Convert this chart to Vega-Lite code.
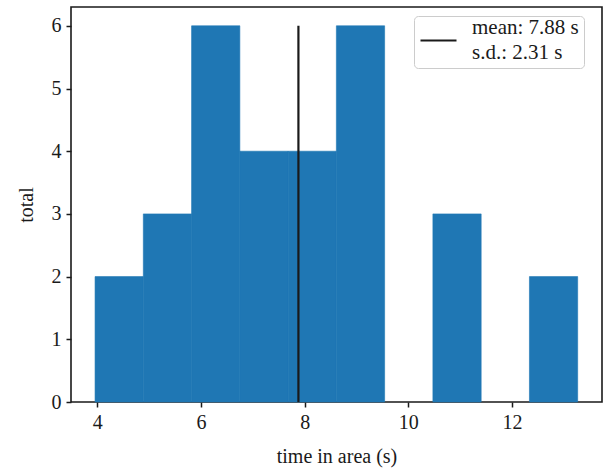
{
  "$schema": "https://vega.github.io/schema/vega-lite/v6.json",
  "width": 531,
  "height": 395,
  "autosize": {"type": "none"},
  "padding": {"left": 71, "top": 7, "right": 4, "bottom": 70},
  "background": "white",
  "config": {
    "view": {"stroke": "#1a1a1a", "strokeWidth": 1.6},
    "font": "Liberation Serif",
    "axis": {
      "grid": false,
      "domain": false,
      "tickColor": "#1a1a1a",
      "tickWidth": 1.5,
      "tickSize": 5,
      "labelFont": "Liberation Serif",
      "labelFontSize": 20,
      "labelColor": "#1a1a1a",
      "titleFont": "Liberation Serif",
      "titleFontSize": 20,
      "titleFontWeight": "normal",
      "titleColor": "#1a1a1a"
    }
  },
  "layer": [
    {
      "data": {
        "values": [
          {"start": 3.957, "end": 4.888, "count": 2},
          {"start": 4.888, "end": 5.819, "count": 3},
          {"start": 5.819, "end": 6.750, "count": 6},
          {"start": 6.750, "end": 7.681, "count": 4},
          {"start": 7.681, "end": 8.612, "count": 4},
          {"start": 8.612, "end": 9.543, "count": 6},
          {"start": 9.543, "end": 10.474, "count": 0},
          {"start": 10.474, "end": 11.405, "count": 3},
          {"start": 11.405, "end": 12.336, "count": 0},
          {"start": 12.336, "end": 13.267, "count": 2}
        ]
      },
      "mark": {"type": "rect", "color": "#1f77b4", "stroke": "#1f77b4", "strokeWidth": 0.6},
      "encoding": {
        "x": {
          "field": "start",
          "type": "quantitative",
          "scale": {"domain": [3.493, 13.736], "nice": false, "zero": false},
          "axis": {"values": [4, 6, 8, 10, 12], "format": "d", "title": "time in area (s)", "labelPadding": 5, "titlePadding": 14}
        },
        "x2": {"field": "end"},
        "y": {
          "field": "count",
          "type": "quantitative",
          "scale": {"domain": [0, 6.3], "nice": false},
          "axis": {"values": [0, 1, 2, 3, 4, 5, 6], "format": "d", "title": "total", "labelPadding": 5, "titlePadding": 15}
        },
        "y2": {"datum": 0, "type": "quantitative"},
        "strokeOpacity": {"condition": {"test": "datum.count > 0", "value": 1}, "value": 0}
      }
    },
    {
      "data": {"values": [{"mean": 7.88, "bottom": 0, "top": 6, "series": "mean"}]},
      "mark": {"type": "rule", "strokeWidth": 2.2},
      "encoding": {
        "x": {"field": "mean", "type": "quantitative"},
        "y": {"field": "bottom", "type": "quantitative"},
        "y2": {"field": "top"},
        "color": {
          "field": "series",
          "type": "nominal",
          "scale": {"range": ["#1a1a1a"]},
          "legend": {
            "title": null,
            "orient": "none",
            "legendX": 343,
            "legendY": 9,
            "padding": 5,
            "fillColor": "white",
            "strokeColor": "#cccccc",
            "cornerRadius": 4,
            "symbolType": "stroke",
            "symbolSize": 1296,
            "symbolStrokeWidth": 2.2,
            "symbolStrokeColor": "#1a1a1a",
            "labelFont": "Liberation Serif",
            "labelFontSize": 21,
            "labelColor": "#1a1a1a",
            "labelOffset": 14,
            "labelLimit": 300,
            "labelExpr": "['mean: 7.88 s', 's.d.: 2.31 s']",
            "encode": {"labels": {"update": {"lineHeight": {"value": 25}, "dy": {"value": -12.5}}}}
          }
        }
      }
    }
  ]
}
